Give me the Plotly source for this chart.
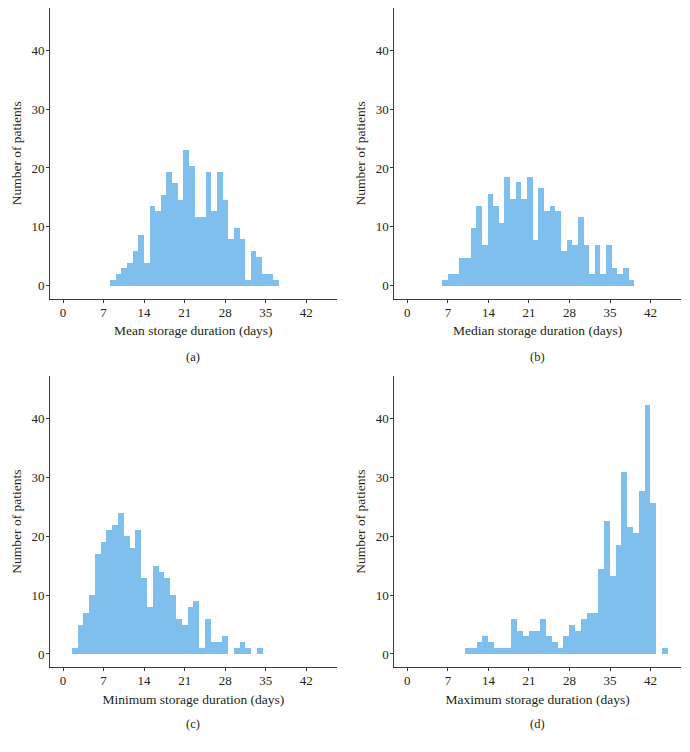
import numpy as np
import plotly.graph_objects as go

# ---- data ----
mean_counts = [1, 2, 3, 4, 6, 8.7, 4, 13.6, 12.8, 15.5, 19.4, 17.5, 14.6, 23.2, 20.4,
               11.7, 11.7, 19.4, 12.8, 19.4, 14.6, 8, 9.8, 8, 1, 5.9, 5, 2, 2, 1]
mean_bin_start = 8.14
mean_bin_width = 0.971

median_counts = [1, 2, 2, 4.8, 4.8, 9.8, 13.6, 6.9, 15.7, 13.6, 10.8, 18.5, 14.8, 17.6,
                 14.8, 18.5, 7.8, 16.6, 12.7, 13.6, 12.7, 5.9, 7.8, 6.9, 11.7, 6.9, 2,
                 6.9, 2, 6.9, 3, 2, 3, 1]
median_bin_start = 6.1
median_bin_width = 0.975

min_counts = [1, 5, 7, 10, 17, 19, 21, 22, 24, 20, 18, 21, 13, 8, 15, 14, 13, 10, 6, 5,
              8, 9, 1, 6, 2, 2, 3, 0, 1, 2, 1, 0, 1]
min_bin_start = 1.5
min_bin_width = 1.0

max_counts = [1, 1, 2, 3, 2, 1, 1, 1, 6, 4, 3, 4, 4, 6, 3, 2, 1, 3, 5, 4, 6, 7, 7,
              14.4, 22.6, 13.3, 18.5, 30.9, 21.6, 20.5, 27.7, 42.3, 25.6, 0, 1]
max_bin_start = 10.0
max_bin_width = 1.0

x_titles = ["Mean storage duration (days)", "Median storage duration (days)",
            "Minimum storage duration (days)", "Maximum storage duration (days)"]
panel_labels = ["(a)", "(b)", "(c)", "(d)"]
y_title = "Number of patients"
x_ticks = [0, 7, 14, 21, 28, 35, 42]
y_ticks = [0, 10, 20, 30, 40]

panels = [
    (mean_counts, mean_bin_start, mean_bin_width),
    (median_counts, median_bin_start, median_bin_width),
    (min_counts, min_bin_start, min_bin_width),
    (max_counts, max_bin_start, max_bin_width),
]

# ---- layout ----
W, H = 690, 752
BAR_COLOR = "#7fbfed"
AXIS_COLOR = "#3a3a3a"
TEXT_COLOR = "#231f20"
FONT = "Liberation Serif"

x_domains = [[50 / W, 336.7 / W], [394.3 / W, 681 / W]]
y_domains = [[1 - 298.9 / H, 1 - 7.6 / H], [1 - 667.2 / H, 1 - 375.9 / H]]

fig = go.Figure()

for i, (counts, start, width) in enumerate(panels):
    n = len(counts)
    centers = start + width * (np.arange(n) + 0.5)
    ax = "" if i == 0 else str(i + 1)
    fig.add_trace(go.Bar(
        x=centers, y=counts, width=width,
        marker=dict(color=BAR_COLOR, line=dict(width=0)),
        xaxis="x" + ax, yaxis="y" + ax, showlegend=False,
        hoverinfo="x+y",
    ))
    col = i % 2
    row = i // 2
    common = dict(
        showline=True, linecolor=AXIS_COLOR, linewidth=1,
        ticks="outside", ticklen=3, tickwidth=1, tickcolor=AXIS_COLOR,
        showgrid=False, zeroline=False,
        tickfont=dict(family=FONT, size=13, color=TEXT_COLOR),
        range=[-2.25, 47.25], fixedrange=True,
    )
    fig.layout["xaxis" + ax] = dict(
        common, domain=x_domains[col], anchor="y" + ax,
        tickvals=x_ticks, ticklabelstandoff=-2,
        title=dict(text=x_titles[i], font=dict(family=FONT, size=13.5, color=TEXT_COLOR),
                   standoff=7),
    )
    fig.layout["yaxis" + ax] = dict(
        common, domain=y_domains[row], anchor="x" + ax,
        tickvals=y_ticks, ticklabelstandoff=-1,
        title=dict(text=y_title, font=dict(family=FONT, size=13.5, color=TEXT_COLOR),
                   standoff=6),
    )
    xc = (x_domains[col][0] + x_domains[col][1]) / 2
    ylab = 1 - (357 if row == 0 else 724) / H
    fig.add_annotation(
        text=panel_labels[i], x=xc, y=ylab, xref="paper", yref="paper",
        showarrow=False, xanchor="center", yanchor="middle",
        font=dict(family=FONT, size=12.5, color=TEXT_COLOR),
    )

fig.update_layout(
    width=W, height=H,
    margin=dict(l=0, r=0, t=0, b=0),
    paper_bgcolor="white", plot_bgcolor="white",
    bargap=0,
)

fig.write_html("out.html", config={"displayModeBar": False},
               post_script="document.body.style.margin='0';")
